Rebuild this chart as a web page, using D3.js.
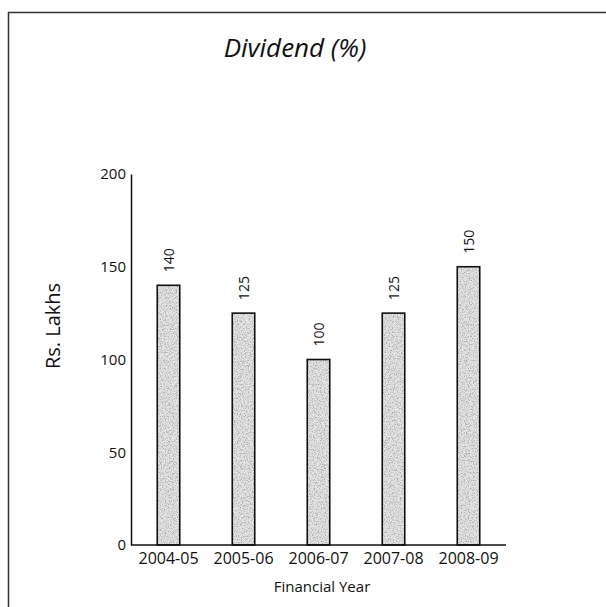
<!DOCTYPE html>
<html>
<head>
<meta charset="utf-8">
<script src="https://cdn.jsdelivr.net/npm/d3@7"></script>
<style>
  html, body { margin: 0; padding: 0; background: #fff; }
  svg { display: block; }
  text { font-family: "Open Sans", "DejaVu Sans", sans-serif; fill: #111; }
</style>
</head>
<body>
<svg id="chart" width="606" height="607"></svg>
<script>
const categories = ["2004-05", "2005-06", "2006-07", "2007-08", "2008-09"];
const dividend = [140, 125, 100, 125, 150];
const yTicks = [0, 50, 100, 150, 200];

const svg = d3.select("#chart");
const W = 606, H = 607;
const plot = { left: 131, right: 506, top: 174, bottom: 545 };

// frame around the figure
svg.append("path")
  .attr("d", `M8.5,${H} L8.5,12.5 L${W},12.5`)
  .attr("fill", "none")
  .attr("stroke", "#333")
  .attr("stroke-width", 1.5);

// stippled grey texture for the bars
const defs = svg.append("defs");
const f = defs.append("filter").attr("id", "stipple")
  .attr("x", 0).attr("y", 0).attr("width", 1).attr("height", 1);
f.append("feTurbulence")
  .attr("type", "fractalNoise").attr("baseFrequency", 0.75)
  .attr("numOctaves", 2).attr("seed", 3).attr("result", "noise");
f.append("feColorMatrix")
  .attr("in", "noise").attr("type", "matrix")
  .attr("values", "0 0 0 0 0.42  0 0 0 0 0.42  0 0 0 0 0.42  0 0 0 -3.2 1.85")
  .attr("result", "dots");
f.append("feFlood").attr("flood-color", "#e6e6e6").attr("result", "base");
f.append("feComposite").attr("in", "dots").attr("in2", "base")
  .attr("operator", "over").attr("result", "tex");
f.append("feComposite").attr("in", "tex").attr("in2", "SourceGraphic")
  .attr("operator", "in");

const x = d3.scaleBand()
  .domain(categories)
  .range([plot.left, plot.right])
  .paddingInner(0.7)
  .paddingOuter(0.35);

const y = d3.scaleLinear()
  .domain([0, 200])
  .range([plot.bottom, plot.top]);

// bars
const bars = svg.append("g");
bars.selectAll("rect.fill")
  .data(dividend)
  .join("rect")
  .attr("class", "fill")
  .attr("x", (d, i) => x(categories[i]))
  .attr("y", d => y(d))
  .attr("width", x.bandwidth())
  .attr("height", d => y(0) - y(d))
  .attr("fill", "#bbb")
  .attr("filter", "url(#stipple)");
bars.selectAll("rect.edge")
  .data(dividend)
  .join("rect")
  .attr("class", "edge")
  .attr("x", (d, i) => x(categories[i]))
  .attr("y", d => y(d))
  .attr("width", x.bandwidth())
  .attr("height", d => y(0) - y(d))
  .attr("fill", "none")
  .attr("stroke", "#111")
  .attr("stroke-width", 1.6);

// value labels, rotated above each bar
svg.append("g").selectAll("text")
  .data(dividend)
  .join("text")
  .attr("transform", (d, i) =>
    `translate(${x(categories[i]) + x.bandwidth() / 2 + 5},${y(d) - 13}) rotate(-90)`)
  .attr("text-anchor", "start")
  .attr("font-size", 14)
  .text(d => d);

// y axis
const yAxis = svg.append("g")
  .attr("transform", `translate(${plot.left},0)`)
  .call(d3.axisLeft(y).tickValues(yTicks).tickSize(0).tickPadding(5));
yAxis.select(".domain").attr("stroke", "#111").attr("stroke-width", 1.5);
yAxis.selectAll("text").attr("font-size", 15).attr("fill", "#111")
  .style("font-family", "'Open Sans', sans-serif");

// x axis
const xAxis = svg.append("g")
  .attr("transform", `translate(0,${y(0)})`)
  .call(d3.axisBottom(x).tickSize(0).tickPadding(8));
xAxis.select(".domain")
  .attr("d", `M${plot.left},0H${plot.right}`)
  .attr("stroke", "#111").attr("stroke-width", 1.5);
xAxis.selectAll("text").attr("font-size", 16).attr("fill", "#111")
  .style("font-family", "'Open Sans', sans-serif");

// title and axis titles
svg.append("text")
  .attr("x", 295).attr("y", 57)
  .attr("text-anchor", "middle")
  .attr("font-size", 26)
  .attr("font-style", "italic")
  .text("Dividend (%)");

svg.append("text")
  .attr("x", 322).attr("y", 592)
  .attr("text-anchor", "middle")
  .attr("font-size", 15)
  .text("Financial Year");

svg.append("text")
  .attr("transform", `translate(60,326) rotate(-90)`)
  .attr("text-anchor", "middle")
  .attr("font-size", 20)
  .text("Rs. Lakhs");
</script>
</body>
</html>
